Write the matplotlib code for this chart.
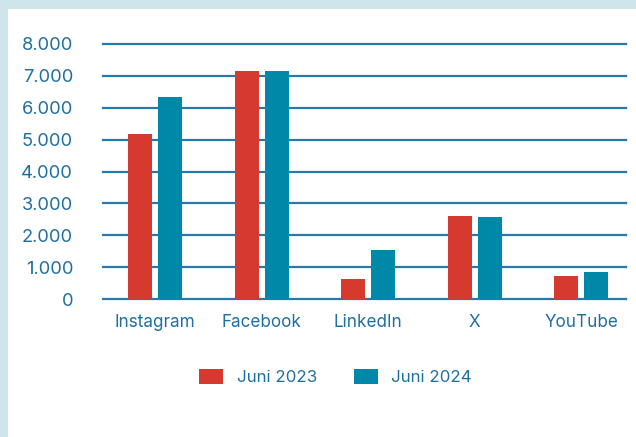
import matplotlib.pyplot as plt
import numpy as np
from matplotlib.patches import Rectangle

# values
platforms = ["Instagram", "Facebook", "LinkedIn", "X", "YouTube"]
juni_2023 = [5180, 7150, 630, 2600, 720]
juni_2024 = [6340, 7150, 1540, 2570, 850]
y_ticks = [0, 1000, 2000, 3000, 4000, 5000, 6000, 7000, 8000]
y_labels = ["0", "1.000", "2.000", "3.000", "4.000", "5.000", "6.000", "7.000", "8.000"]

red = "#d63a2f"
teal = "#0088a8"
txt = "#1f6fa0"
grid_col = "#2a78aa"

plt.rcParams["font.family"] = ["Inter", "DejaVu Sans"]

fig = plt.figure(figsize=(6.36, 4.37), dpi=100)
fig.patch.set_facecolor("#cfe5ec")
# white card behind everything
card = Rectangle((8 / 636, 0), 1, 1 - 9 / 437, transform=fig.transFigure,
                 facecolor="white", edgecolor="none", zorder=-10)
fig.add_artist(card)

ax = fig.add_axes([103 / 636, 1 - 299 / 437, (626 - 103) / 636, (299 - 44) / 437])
ax.set_facecolor("none")
ax.set_zorder(1)

x = np.arange(len(platforms))
w = 0.225
off = 0.141
ax.bar(x - off, juni_2023, w, color=red, label="Juni 2023", zorder=3)
ax.bar(x + off, juni_2024, w, color=teal, label="Juni 2024", zorder=3)

for t in y_ticks:
    ax.axhline(t, color=grid_col, lw=1.6, zorder=2, clip_on=False)

ax.set_xlim(-0.49, 4.42)
ax.set_ylim(0, 8000)
ax.set_yticks(y_ticks)
ax.set_yticklabels(y_labels)
ax.set_xticks(x)
ax.set_xticklabels(platforms)
ax.tick_params(axis="y", length=0, pad=21.5, labelsize=13.2, labelcolor=txt)
ax.tick_params(axis="x", length=0, pad=11, labelsize=12.3, labelcolor=txt)
for s in ax.spines.values():
    s.set_visible(False)

leg = ax.legend(loc="upper center", bbox_to_anchor=(0.445, -0.215), ncol=2, frameon=False,
                fontsize=12.2, handlelength=1.4, handleheight=1.0, columnspacing=2.2,
                handletextpad=0.8)
for t in leg.get_texts():
    t.set_color(txt)

fig.savefig("out.png", dpi=100)
